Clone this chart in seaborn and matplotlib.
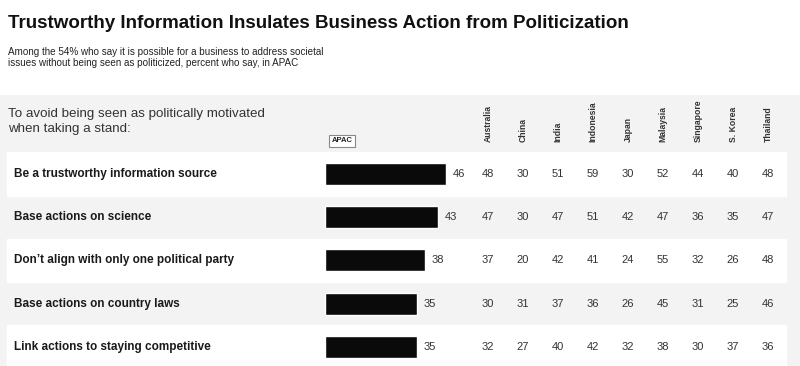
import numpy as np
import pandas as pd
import matplotlib
matplotlib.use('Agg')
import matplotlib.pyplot as plt
import matplotlib.transforms as mtransforms
from matplotlib.patches import Rectangle
import seaborn as sns


# ── data ───────────────────────────────────────
ACTIONS = [
    'Be a trustworthy information source',
    'Base actions on science',
    'Don\u2019t align with only one political party',
    'Base actions on country laws',
    'Link actions to staying competitive',
]
APAC = [46, 43, 38, 35, 35]

COUNTRIES = ['Australia', 'China', 'India', 'Indonesia', 'Japan',
             'Malaysia', 'Singapore', 'S. Korea', 'Thailand']
AUSTRALIA = [48, 47, 37, 30, 32]
CHINA     = [30, 30, 20, 31, 27]
INDIA     = [51, 47, 42, 37, 40]
INDONESIA = [59, 51, 41, 36, 42]
JAPAN     = [30, 42, 24, 26, 32]
MALAYSIA  = [52, 47, 55, 45, 38]
SINGAPORE = [44, 36, 32, 31, 30]
S_KOREA   = [40, 35, 26, 25, 37]
THAILAND  = [48, 47, 48, 46, 36]
COUNTRY_VALUES = [AUSTRALIA, CHINA, INDIA, INDONESIA, JAPAN,
                  MALAYSIA, SINGAPORE, S_KOREA, THAILAND]

TITLE = 'Trustworthy Information Insulates Business Action from Politicization'
SUBTITLE = ('Among the 54% who say it is possible for a business to address societal\n'
            'issues without being seen as politicized, percent who say, in APAC')
INTRO = 'To avoid being seen as politically motivated\nwhen taking a stand:'


# ── layout (pixels of an 800x366 canvas) ────────
W, H = 800, 366
BAR_X0 = 325          # where the bars start
PX_PER_UNIT = 2.62    # bar scale
ROW_TOP = 152.4
ROW_PITCH = 43.2
COL_X0, COL_STEP = 488, 35

fx = lambda px: px / W
fy = lambda py: 1 - py / H

sns.set_theme(style='white')
plt.rcParams['font.family'] = ['Liberation Sans', 'DejaVu Sans']

fig = plt.figure(figsize=(8, 3.66), dpi=100)
fig.patch.set_facecolor('white')
fig.patches.append(Rectangle((0, 0), 1, fy(95), transform=fig.transFigure,
                             facecolor='#f3f3f3', edgecolor='none', zorder=-1))

ax = fig.add_axes([0, 0, 1, fy(ROW_TOP)])
ax.patch.set_alpha(0)

df = pd.DataFrame({'action': ACTIONS, 'apac': APAC})
sns.barplot(data=df, x='apac', y='action', color='#0a0a0a', saturation=1,
            width=0.51, ax=ax, zorder=3)
ax.bar_label(ax.containers[0], padding=5, fontsize=8, color='#333333')

n_rows = len(ACTIONS)
ax.set_xlim(-BAR_X0 / PX_PER_UNIT, (W - BAR_X0) / PX_PER_UNIT)
ax.set_ylim((H - ROW_TOP) / ROW_PITCH - 0.5, -0.5)
ax.axis('off')

# alternating white rows
for i in range(0, n_rows, 2):
    ax.axhspan(i - 0.5, i + 0.5, xmin=fx(7), xmax=fx(786),
               color='white', zorder=0)

blend = mtransforms.blended_transform_factory(ax.transAxes, ax.transData)
for i, label in enumerate(ACTIONS):
    ax.text(fx(14), i, label, transform=blend, ha='left', va='center',
            fontsize=8.5, fontweight='bold', color='#1a1a1a')

col_x = COL_X0 + COL_STEP * np.arange(len(COUNTRIES))
for cx, name, vals in zip(col_x, COUNTRIES, COUNTRY_VALUES):
    fig.text(fx(cx), fy(142), name, rotation=90, ha='center', va='bottom',
             fontsize=6.2, fontweight='bold', color='#333333')
    for i, v in enumerate(vals):
        ax.text(fx(cx), i, str(v), transform=blend, ha='center', va='center',
                fontsize=8, color='#333333')

# APAC tag above the bars
fig.text(fx(342), fy(141), 'APAC', ha='center', va='center', fontsize=5.5,
         fontweight='bold', color='#222222',
         bbox=dict(boxstyle='square,pad=0.35', facecolor='white',
                   edgecolor='#888888', linewidth=0.8))

fig.text(fx(8), fy(23), TITLE, ha='left', va='center', fontsize=13.5,
         fontweight='bold', color='#111111')
fig.text(fx(8), fy(47), SUBTITLE, ha='left', va='top', fontsize=7.1,
         color='#222222', linespacing=1.15)
fig.text(fx(8), fy(108), INTRO, ha='left', va='top', fontsize=9.6,
         color='#333333', linespacing=1.35)

fig.savefig('out.png', dpi=100)
